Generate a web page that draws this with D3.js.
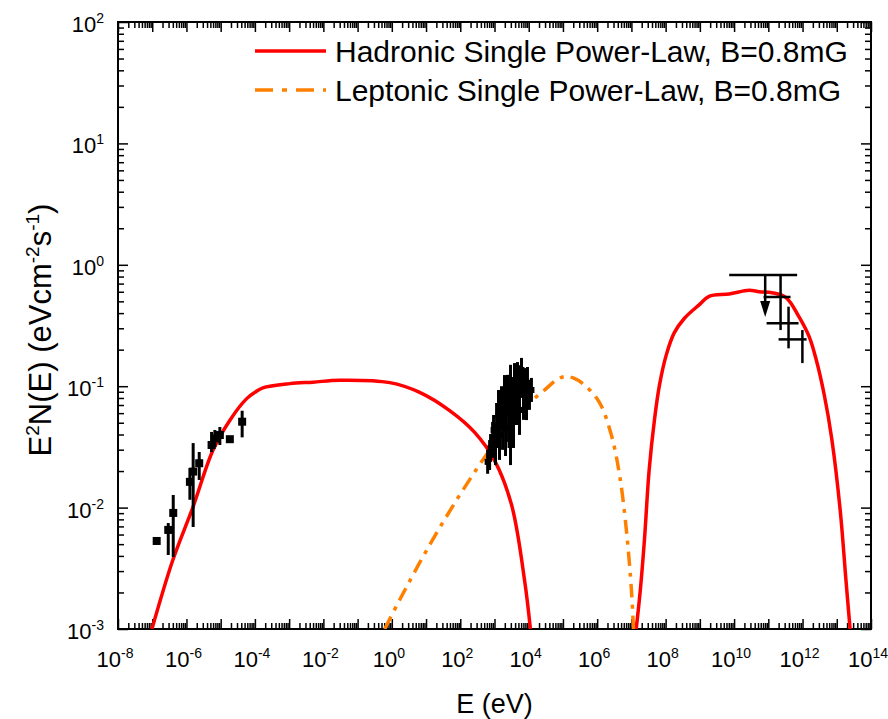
<!DOCTYPE html>
<html>
<head>
<meta charset="utf-8">
<script src="https://cdn.jsdelivr.net/npm/d3@7"></script>
<style>
  body { margin: 0; background: #fff; }
  svg { font-family: "Liberation Sans", Arial, sans-serif; }
</style>
</head>
<body>
<div id="my_dataviz"></div>
<script>
// Axis ticks (exponents of ten)
const xLabelExps = [-8, -6, -4, -2, 0, 2, 4, 6, 8, 10, 12, 14];
const yLabelExps = [-3, -2, -1, 0, 1, 2];

// Model curves [E (eV), E^2 N(E)]
const hadronicSync = [
  [9.8e-8, 1.0e-3], [4.0e-7, 3.7e-3], [1.55e-6, 1.01e-2], [5.9e-6, 2.95e-2],
  [1.86e-5, 5.25e-2], [5.75e-5, 7.9e-2], [1.0e-4, 8.9e-2], [1.7e-4, 9.7e-2],
  [1.05e-3, 0.105], [5.0e-3, 0.108], [3.0e-2, 0.112], [0.87, 0.107], [6.5, 0.089],
  [49, 0.063], [263, 0.0417], [1000, 0.0245], [3160, 0.0105], [7590, 2.5e-3],
  [1.12e4, 1.0e-3]
];
const hadronicGamma = [
  [1.38e7, 1.0e-3], [1.82e7, 2.09e-3], [2.4e7, 5.4e-3], [3.3e7, 2.04e-2],
  [4.7e7, 5.25e-2], [6.6e7, 0.102], [1.05e8, 0.182], [1.78e8, 0.275],
  [3.55e8, 0.363], [9.5e8, 0.468], [1.86e9, 0.55], [7.2e9, 0.575],
  [2.75e10, 0.617], [5.4e10, 0.60], [1.29e11, 0.589], [3.3e11, 0.537],
  [7.9e11, 0.372], [1.55e12, 0.257], [2.5e12, 0.166], [4.3e12, 0.085],
  [7.2e12, 0.0363], [1.26e13, 9.5e-3], [1.86e13, 2.5e-3], [2.45e13, 1.0e-3]
];
const leptonic = [
  [0.62, 1.0e-3], [1.7, 1.74e-3], [12.6, 4.9e-3], [95, 1.26e-2], [710, 2.95e-2],
  [5400, 6.2e-2], [2.9e4, 9.3e-2], [6.3e4, 0.112], [1.1e5, 0.12], [2.0e5, 0.117],
  [4.3e5, 0.102], [1.15e6, 0.074], [2.57e6, 0.040], [4.5e6, 0.0186],
  [7.1e6, 6.6e-3], [1.0e7, 2.1e-3], [1.15e7, 1.0e-3]
];

// Radio data [E, F, Flow, Fhigh]
const radioData = [
  [1.35e-7, 5.31e-3, 5.31e-3, 5.31e-3],
  [2.94e-7, 6.55e-3, 4.07e-3, 7.46e-3],
  [4.11e-7, 9.04e-3, 3.92e-3, 1.27e-2],
  [1.26e-6, 1.63e-2, 1.16e-2, 2.12e-2],
  [1.57e-6, 1.98e-2, 6.92e-3, 3.40e-2],
  [2.36e-6, 2.32e-2, 1.69e-2, 2.87e-2],
  [5.42e-6, 3.28e-2, 2.87e-2, 4.20e-2],
  [6.76e-6, 3.72e-2, 3.16e-2, 4.36e-2],
  [9.46e-6, 3.96e-2, 3.28e-2, 4.61e-2],
  [1.85e-5, 3.66e-2, 3.45e-2, 3.87e-2],
  [4.24e-5, 5.10e-2, 3.79e-2, 6.28e-2]
];

// X-ray data [E, F, Flow, Fhigh]
const xrayData = [
  [630, 0.0238, 0.0190, 0.0299], [720, 0.0271, 0.0204, 0.0360],
  [770, 0.0310, 0.0238, 0.0404], [880, 0.0361, 0.0257, 0.0508],
  [940, 0.0436, 0.0328, 0.0579], [1070, 0.0328, 0.0224, 0.0479],
  [1150, 0.0479, 0.0316, 0.0727], [1310, 0.0579, 0.0361, 0.0930],
  [1400, 0.0396, 0.0247, 0.0636], [1600, 0.0661, 0.0435, 0.100],
  [1720, 0.0528, 0.0299, 0.0932], [1960, 0.0769, 0.0479, 0.1235],
  [2100, 0.0453, 0.0266, 0.0770], [2400, 0.0848, 0.0580, 0.124],
  [2570, 0.0612, 0.0347, 0.108], [2940, 0.0931, 0.0580, 0.150],
  [2940, 0.0328, 0.0224, 0.0479], [3140, 0.0700, 0.0412, 0.119],
  [3590, 0.0547, 0.0310, 0.0966], [3840, 0.1023, 0.0674, 0.155],
  [4400, 0.0769, 0.0479, 0.1235], [4700, 0.0895, 0.0507, 0.158],
  [5370, 0.0637, 0.0397, 0.102], [5750, 0.1124, 0.0846, 0.149],
  [6140, 0.136, 0.108, 0.171], [7030, 0.0848, 0.0528, 0.136],
  [7520, 0.0966, 0.0661, 0.141], [8600, 0.0769, 0.0526, 0.112],
  [9190, 0.1023, 0.0727, 0.144], [10500, 0.0848, 0.0638, 0.113],
  [12000, 0.0931, 0.0742, 0.117]
];

// Gamma-ray data [E, Elow, Ehigh, F, Flow, Fhigh]
const gammaData = [
  [2.28e11, 7.26e10, 4.46e11, 0.543, 0.290, 0.824],
  [3.9e11, 8.9e10, 7.64e11, 0.330, 0.205, 0.452],
  [9.9e11, 1.99e11, 1.31e12, 0.243, 0.155, 0.290]
];
// Upper limit [E, Elow, Ehigh, F, arrow tip]
const upperLimit = [8.1e10, 7.2e9, 6.95e11, 0.824, 0.371];

const legendItems = [
  { label: "Hadronic Single Power-Law, B=0.8mG", color: "#ff0000", dash: null },
  { label: "Leptonic Single Power-Law, B=0.8mG", color: "#ff8000", dash: "18,9,5,9" }
];

const width = 888, height = 719;
const margin = { left: 118, right: 871, top: 22, bottom: 629 };

const svg = d3.select("#my_dataviz")
  .append("svg")
  .attr("width", width)
  .attr("height", height);

const x = d3.scaleLog().domain([1e-8, 1e14]).range([margin.left, margin.right]);
const y = d3.scaleLog().domain([1e-3, 1e2]).range([margin.bottom, margin.top]);

svg.append("clipPath").attr("id", "plotClip")
  .append("rect")
  .attr("x", margin.left).attr("y", margin.top)
  .attr("width", margin.right - margin.left).attr("height", margin.bottom - margin.top);

// Tick positions
const xMajor = d3.range(-8, 15).map(e => Math.pow(10, e));
const yMajor = d3.range(-3, 3).map(e => Math.pow(10, e));
const minorOf = majors => majors.slice(0, -1).flatMap(m => d3.range(2, 10).map(k => m * k));
const xMinor = minorOf(xMajor);
const yMinor = minorOf(yMajor);

function drawAxis(axisFn, scale, pos, values, size) {
  svg.append("g")
    .attr("transform", pos)
    .call(axisFn(scale).tickValues(values).tickSize(size).tickSizeOuter(0).tickFormat(""))
    .call(g => g.select(".domain").remove())
    .call(g => g.selectAll("line").attr("stroke", "#000").attr("stroke-width", 1.5));
}
// inward ticks on all four sides
drawAxis(d3.axisBottom, x, `translate(0,${margin.bottom})`, xMajor, -10);
drawAxis(d3.axisBottom, x, `translate(0,${margin.bottom})`, xMinor, -6);
drawAxis(d3.axisTop, x, `translate(0,${margin.top})`, xMajor, -10);
drawAxis(d3.axisTop, x, `translate(0,${margin.top})`, xMinor, -6);
drawAxis(d3.axisLeft, y, `translate(${margin.left},0)`, yMajor, -10);
drawAxis(d3.axisLeft, y, `translate(${margin.left},0)`, yMinor, -6);
drawAxis(d3.axisRight, y, `translate(${margin.right},0)`, yMajor, -10);
drawAxis(d3.axisRight, y, `translate(${margin.right},0)`, yMinor, -6);

// Frame
svg.append("rect")
  .attr("x", margin.left).attr("y", margin.top)
  .attr("width", margin.right - margin.left).attr("height", margin.bottom - margin.top)
  .attr("fill", "none").attr("stroke", "#000").attr("stroke-width", 2);

// Tick labels
const xLabels = svg.append("g").selectAll("text")
  .data(xLabelExps).join("text")
  .attr("x", d => x(Math.pow(10, d)) - 3)
  .attr("y", 667)
  .attr("text-anchor", "middle")
  .style("font-size", "22px");
xLabels.append("tspan").text("10");
xLabels.append("tspan").attr("dy", -9).style("font-size", "14px").text(d => d);

const yLabels = svg.append("g").selectAll("text")
  .data(yLabelExps).join("text")
  .attr("x", 104)
  .attr("y", d => y(Math.pow(10, d)) + 10)
  .attr("text-anchor", "end")
  .style("font-size", "22px");
yLabels.append("tspan").text("10");
yLabels.append("tspan").attr("dy", -9).style("font-size", "14px").text(d => d);

// Axis titles
svg.append("text")
  .attr("x", (margin.left + margin.right) / 2)
  .attr("y", 713)
  .attr("text-anchor", "middle")
  .style("font-size", "27px")
  .text("E (eV)");

const yTitle = svg.append("text")
  .attr("transform", "translate(51,330) rotate(-90)")
  .attr("text-anchor", "middle")
  .style("font-size", "31px");
yTitle.append("tspan").text("E");
yTitle.append("tspan").attr("dy", -12).style("font-size", "19px").text("2");
yTitle.append("tspan").attr("dy", 12).text("N(E) (eVcm");
yTitle.append("tspan").attr("dy", -12).style("font-size", "19px").text("-2");
yTitle.append("tspan").attr("dy", 12).text("s");
yTitle.append("tspan").attr("dy", -12).style("font-size", "19px").text("-1");
yTitle.append("tspan").attr("dy", 12).text(")");

// Curves
const line = d3.line()
  .x(d => x(d[0]))
  .y(d => y(d[1]))
  .curve(d3.curveCatmullRom);

const plot = svg.append("g").attr("clip-path", "url(#plotClip)");

[hadronicSync, hadronicGamma].forEach(c => {
  plot.append("path")
    .datum(c)
    .attr("d", line)
    .attr("fill", "none")
    .attr("stroke", "#ff0000")
    .attr("stroke-width", 3.5);
});

plot.append("path")
  .datum(leptonic)
  .attr("d", line)
  .attr("fill", "none")
  .attr("stroke", "#ff8000")
  .attr("stroke-width", 3.5)
  .attr("stroke-dasharray", "14,7,4,7");

// Data points with error bars
function drawPoints(data, size) {
  const g = plot.append("g");
  g.selectAll("line")
    .data(data.filter(d => d[2] !== d[3]))
    .join("line")
    .attr("x1", d => x(d[0])).attr("x2", d => x(d[0]))
    .attr("y1", d => y(d[2])).attr("y2", d => y(d[3]))
    .attr("stroke", "#000").attr("stroke-width", 3);
  g.selectAll("rect")
    .data(data)
    .join("rect")
    .attr("x", d => x(d[0]) - size / 2)
    .attr("y", d => y(d[1]) - size / 2)
    .attr("width", size).attr("height", size)
    .attr("fill", "#000");
}
drawPoints(radioData, 8);
drawPoints(xrayData, 6);

const gamma = plot.append("g").attr("stroke", "#000").attr("stroke-width", 2.5);
gamma.selectAll(".h")
  .data(gammaData).join("line").attr("class", "h")
  .attr("x1", d => x(d[1])).attr("x2", d => x(d[2]))
  .attr("y1", d => y(d[3])).attr("y2", d => y(d[3]));
gamma.selectAll(".v")
  .data(gammaData).join("line").attr("class", "v")
  .attr("x1", d => x(d[0])).attr("x2", d => x(d[0]))
  .attr("y1", d => y(d[4])).attr("y2", d => y(d[5]));

// Upper limit with arrow
const [ulE, ulLo, ulHi, ulF, ulTip] = upperLimit;
gamma.append("line")
  .attr("x1", x(ulLo)).attr("x2", x(ulHi))
  .attr("y1", y(ulF)).attr("y2", y(ulF));
gamma.append("line")
  .attr("x1", x(ulE)).attr("x2", x(ulE))
  .attr("y1", y(ulF)).attr("y2", y(ulTip) - 10);
plot.append("path")
  .attr("d", `M${x(ulE) - 5},${y(ulTip) - 16} L${x(ulE) + 5},${y(ulTip) - 16} L${x(ulE)},${y(ulTip)} Z`)
  .attr("fill", "#000");

// Legend
const legend = svg.append("g");
legendItems.forEach((item, i) => {
  const ly = 51 + i * 39;
  legend.append("line")
    .attr("x1", 255).attr("x2", 326)
    .attr("y1", ly).attr("y2", ly)
    .attr("stroke", item.color)
    .attr("stroke-width", 3.5)
    .attr("stroke-dasharray", item.dash);
  legend.append("text")
    .attr("x", 335)
    .attr("y", ly + 11)
    .style("font-size", "30px")
    .text(item.label);
});
</script>
</body>
</html>
